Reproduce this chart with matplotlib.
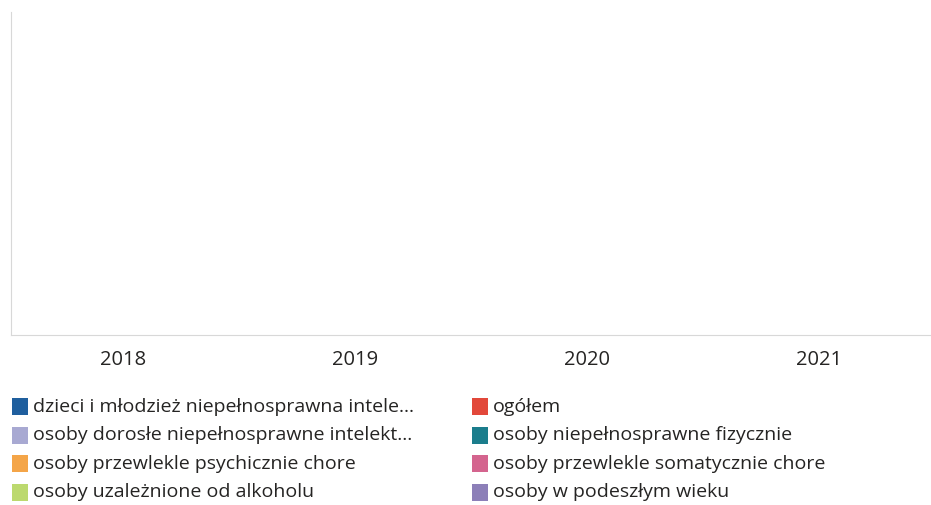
import matplotlib
matplotlib.use("Agg")
import matplotlib.pyplot as plt
from matplotlib.patches import Rectangle
import numpy as np

plt.rcParams['font.family'] = ['Open Sans', 'DejaVu Sans']

years = ["2018", "2019", "2020", "2021"]
series_names = [
    "dzieci i młodzież niepełnosprawna intele...",
    "ogółem",
    "osoby dorosłe niepełnosprawne intelekt...",
    "osoby niepełnosprawne fizycznie",
    "osoby przewlekle psychicznie chore",
    "osoby przewlekle somatycznie chore",
    "osoby uzależnione od alkoholu",
    "osoby w podeszłym wieku",
]
# No visible bars in the reference: all values are effectively zero
values = {
    "dzieci i młodzież niepełnosprawna intele...": [0, 0, 0, 0],
    "ogółem": [0, 0, 0, 0],
    "osoby dorosłe niepełnosprawne intelekt...": [0, 0, 0, 0],
    "osoby niepełnosprawne fizycznie": [0, 0, 0, 0],
    "osoby przewlekle psychicznie chore": [0, 0, 0, 0],
    "osoby przewlekle somatycznie chore": [0, 0, 0, 0],
    "osoby uzależnione od alkoholu": [0, 0, 0, 0],
    "osoby w podeszłym wieku": [0, 0, 0, 0],
}
colors = ["#1f5f9e", "#e2483a", "#a8a9d2", "#1b7d8c",
          "#f4a548", "#d4648e", "#bcd96e", "#8c7fb8"]

W, H = 931, 506
fig = plt.figure(figsize=(W / 100, H / 100), dpi=100)
ax = fig.add_axes([11 / W, 1 - 336 / H, (W - 11) / W, (336 - 13) / H])

x = np.arange(len(years))
n = len(series_names)
bw = 0.8 / n
for i, (name, c) in enumerate(zip(series_names, colors)):
    ax.bar(x - 0.4 + bw * (i + 0.5), values[name], width=bw, color=c)

ax.set_xlim(-0.483, 3.483)
ax.set_ylim(0, 1)
ax.set_yticks([])
ax.set_xticks(x)
ax.set_xticklabels(years, fontsize=14.5, color="#252423")
ax.tick_params(axis='x', length=0, pad=10)
for s in ["top", "right"]:
    ax.spines[s].set_visible(False)
ax.spines["left"].set_color("#d8d8d8")
ax.spines["bottom"].set_color("#d8d8d8")
ax.spines["left"].set_linewidth(0.8)
ax.spines["bottom"].set_linewidth(0.8)

# Legend, two columns (row-major alphabetical order)
col_x = [12, 472]
row_y = [407, 435.5, 464, 492.5]
for i, (name, c) in enumerate(zip(series_names, colors)):
    col = i % 2
    row = i // 2
    x0 = col_x[col]
    y0 = row_y[row]
    fig.patches.append(Rectangle((x0 / W, 1 - (y0 + 9) / H), 16 / W, 17 / H,
                                 transform=fig.transFigure, facecolor=c,
                                 edgecolor="none"))
    fig.text((x0 + 21) / W, 1 - y0 / H, name, fontsize=14, color="#252423",
             va="center", ha="left")

fig.savefig("out.png", dpi=100, facecolor="white")
